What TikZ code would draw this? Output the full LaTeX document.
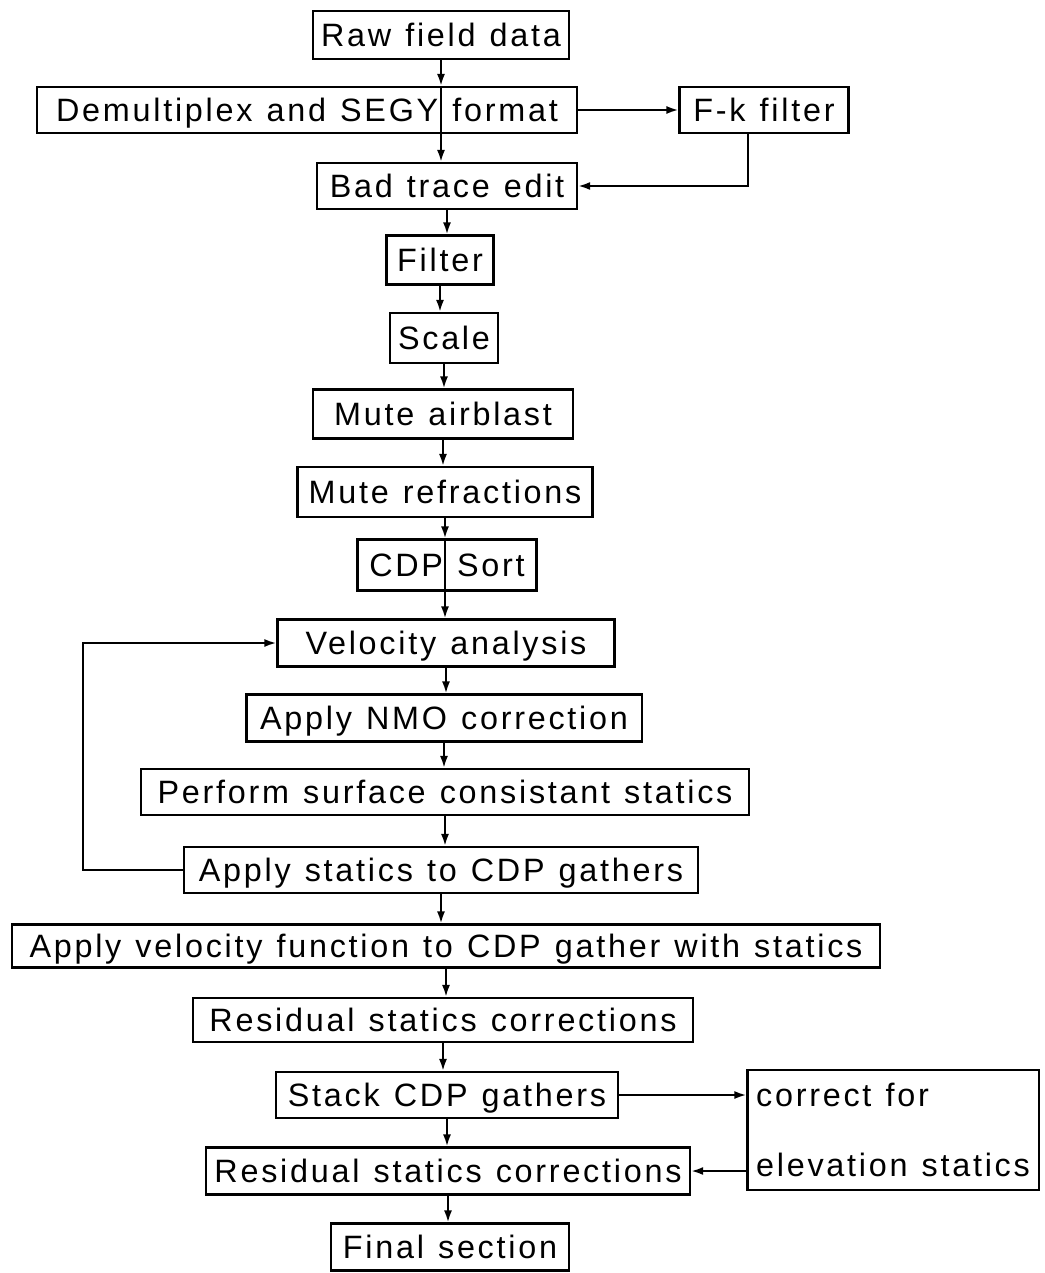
\documentclass[tikz,border=0pt]{standalone}
\usepackage{fontspec}
\setmainfont{Liberation Sans}[LetterSpace=8.5, WordSpace=1.2]
\usetikzlibrary{arrows.meta,positioning,calc}
\tikzset{
    stepBox/.style={
        rectangle,
        draw,
        line width=1.5pt,
        minimum width=#1,
        minimum height=1.15cm,
        inner sep=0pt,
        text height=20pt,
        text depth=3.5pt,
        font=\fontsize{23}{26}\selectfont
    },
    flowArrow/.style={-{Latex[length=0.3cm,width=0.2cm]}, line width=1.5pt}
}
\begin{document}
\begin{tikzpicture}[x=0.025cm, y=-0.025cm]
\useasboundingbox (0,0) rectangle (1044,1273);

% Main processing chain
\node[stepBox=6.4cm, minimum height=1.2cm] (raw) at (441,35) {Raw field data};
\node[stepBox=13.5cm] (demux) at (307,110) {Demultiplex and SEGY format};
\node[stepBox=4.225cm] (fk) at (764,110) {F-k filter};
\node[stepBox=6.5cm] (bad) at (447,186) {Bad trace edit};
\node[stepBox=2.675cm, minimum height=1.225cm] (filt) at (440,260) {Filter};
\node[stepBox=2.7cm, minimum height=1.25cm] (scale) at (444,338) {Scale};
\node[stepBox=6.5cm, minimum height=1.225cm] (mair) at (443,414) {Mute airblast};
\node[stepBox=7.375cm, minimum height=1.25cm] (mref) at (445,492) {Mute refractions};
\node[stepBox=4.475cm, minimum height=1.275cm] (cdp) at (447,565) {CDP Sort};
\node[stepBox=8.425cm, minimum height=1.175cm] (vel) at (446,643) {Velocity analysis};
\node[stepBox=9.875cm, minimum height=1.175cm] (nmo) at (444,718) {Apply NMO correction};
\node[stepBox=15.175cm] (surf) at (445,792) {Perform surface consistant statics};
\node[stepBox=12.825cm] (appst) at (441,870) {Apply statics to CDP gathers};
\node[stepBox=21.7cm, minimum height=1.075cm] (avf) at (446,946) {Apply velocity function to CDP gather with statics};
\node[stepBox=12.5cm, minimum height=1.1cm] (res1) at (443,1020) {Residual statics corrections};
\node[stepBox=8.55cm] (stack) at (447,1095) {Stack CDP gathers};
\node[stepBox=12.1cm, minimum height=1.175cm] (res2) at (448,1171) {Residual statics corrections};
\node[stepBox=5.95cm, minimum height=1.175cm] (final) at (450,1247) {Final section};

% Side box
\node[stepBox=7.275cm, minimum height=3.0cm, align=left,
      text height=, text depth=] (corr) at (893,1130)
    {correct for\\[24pt]elevation statics};

% Straight flow
\draw[flowArrow] (raw) -- (raw |- demux.north);
\draw[flowArrow] (raw |- demux.north) -- (raw |- bad.north);
\draw[flowArrow] (mref) -- (mref |- cdp.north);
\draw[flowArrow] (mref |- cdp.north) -- (mref |- vel.north);
\foreach \a/\b in {bad/filt, filt/scale, scale/mair, mair/mref, vel/nmo, nmo/surf,
                   surf/appst, appst/avf, avf/res1, res1/stack, stack/res2, res2/final} {
    \draw[flowArrow] (\a) -- (\a |- \b.north);
}

% Branches and loop
\draw[flowArrow] (demux) -- (fk);
\draw[flowArrow] ([xshift=-0.4cm]fk.south) |- (bad);
\draw[flowArrow] (appst.west) -- ++(-100,0) |- (vel.west);
\draw[flowArrow] (stack) -- (stack -| corr.west);
\draw[flowArrow] (corr.west |- res2) -- (res2);
\end{tikzpicture}
\end{document}
